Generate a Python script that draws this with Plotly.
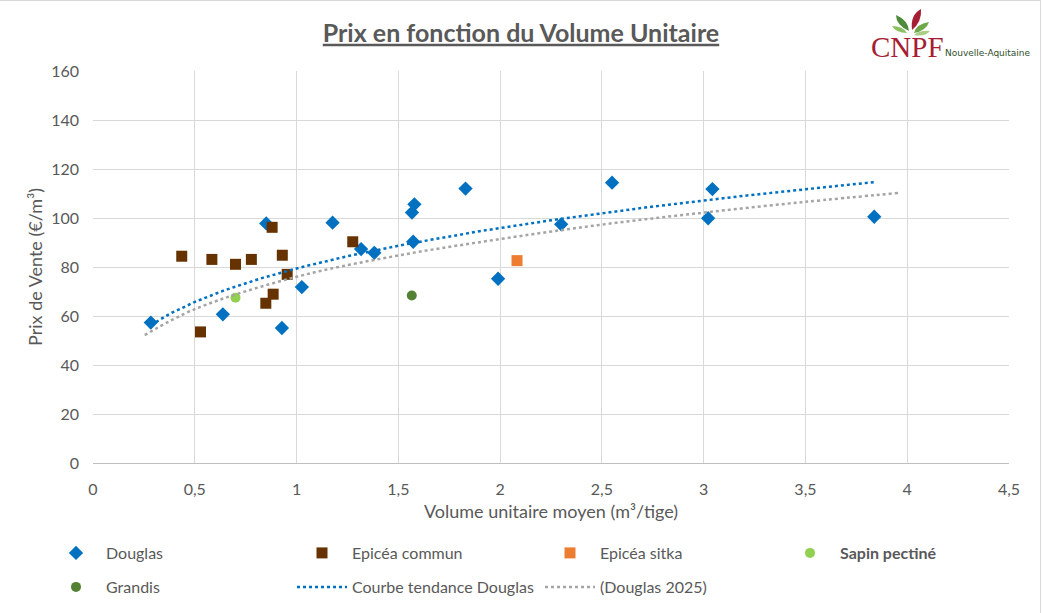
import numpy as np
import plotly.graph_objects as go

# ---------------- data ----------------
douglas_x = [0.284, 0.638, 0.851, 0.928, 1.026, 1.177, 1.317, 1.382, 1.567, 1.579, 1.573,
             1.83, 1.99, 2.30, 2.55, 3.022, 3.043, 3.838]
douglas_y = [57.3, 60.7, 97.8, 55.1, 71.8, 98.1, 87.3, 85.8, 102.2, 105.6, 90.3,
             112.0, 75.2, 97.4, 114.4, 99.9, 111.8, 100.5]

epicea_commun_x = [0.436, 0.584, 0.528, 0.700, 0.778, 0.880, 0.930, 0.954, 0.885, 0.849, 1.276]
epicea_commun_y = [84.4, 83.1, 53.5, 81.1, 83.1, 96.2, 84.8, 77.0, 68.9, 65.2, 90.3]

epicea_sitka_x = [2.083]
epicea_sitka_y = [82.6]

sapin_x = [0.700]
sapin_y = [67.5]

grandis_x = [1.566]
grandis_y = [68.4]

# "(Douglas 2025)" trend curve
douglas2025_x = [0.254, 0.5, 1.0, 1.5, 2.0, 2.5, 3.0, 3.5, 3.956]
douglas2025_y = [52.2, 62.8, 76.0, 84.7, 91.4, 97.3, 102.2, 106.6, 110.2]

x_ticks = [0, 0.5, 1, 1.5, 2, 2.5, 3, 3.5, 4, 4.5]
y_ticks = [0, 20, 40, 60, 80, 100, 120, 140, 160]

# ---------------- Douglas power trend (fitted like Excel's power trendline) ----------------
lx = np.log(np.array(douglas_x))
ly = np.log(np.array(douglas_y))
b_coef, ln_a = np.polyfit(lx, ly, 1)
trend_x = np.linspace(min(douglas_x), max(douglas_x), 200)
trend_y = np.exp(ln_a) * trend_x ** b_coef

FONT = "Lato"
GREY_TXT = "#595959"
W, H = 1042, 613
L, R, T, B = 93, 33, 71, 150
PW, PH = W - L - R, H - T - B


def px_to_paper(px, py):
    return (px - L) / PW, (H - B - py) / PH


fig = go.Figure()

fig.add_trace(go.Scatter(x=douglas_x, y=douglas_y, mode="markers", name="Douglas",
                         marker=dict(symbol="diamond", size=11, color="#0070C0"),
                         legend="legend", legendwidth=181))
fig.add_trace(go.Scatter(x=epicea_commun_x, y=epicea_commun_y, mode="markers", name="Epicéa commun",
                         marker=dict(symbol="square", size=11, color="#663300"),
                         legend="legend", legendwidth=183))
fig.add_trace(go.Scatter(x=epicea_sitka_x, y=epicea_sitka_y, mode="markers", name="Epicéa sitka",
                         marker=dict(symbol="square", size=11, color="#ED7D31"),
                         legend="legend", legendwidth=175))
fig.add_trace(go.Scatter(x=sapin_x, y=sapin_y, mode="markers", name="<b>Sapin pectiné</b>",
                         marker=dict(symbol="circle", size=10, color="#92D050"),
                         legend="legend", legendwidth=150))
fig.add_trace(go.Scatter(x=grandis_x, y=grandis_y, mode="markers", name="Grandis",
                         marker=dict(symbol="circle", size=10, color="#548235"),
                         legend="legend2", legendwidth=181))
fig.add_trace(go.Scatter(x=trend_x, y=trend_y, mode="lines", name="Courbe tendance Douglas",
                         line=dict(color="#0070C0", width=2.5, dash="dot"),
                         legend="legend2", legendwidth=183))
fig.add_trace(go.Scatter(x=douglas2025_x, y=douglas2025_y, mode="lines", name="(Douglas 2025)",
                         line=dict(color="#A5A5A5", width=2.5, dash="dot", shape="spline"),
                         legend="legend2", legendwidth=150))

# ---------------- logo (CNPF Nouvelle-Aquitaine) ----------------
shapes = []


def leaf(p0, p1, c1, c2, color):
    x0, y0 = px_to_paper(*p0)
    x1, y1 = px_to_paper(*p1)
    a1, b1 = px_to_paper(*c1)
    a2, b2 = px_to_paper(*c2)
    return dict(type="path", xref="paper", yref="paper",
                path=f"M{x0},{y0} Q{a1},{b1} {x1},{y1} Q{a2},{b2} {x0},{y0} Z",
                fillcolor=color, line=dict(width=0), layer="above")


shapes += [
    leaf((912, 30), (921, 9), (910, 15), (922, 22), "#A41E34"),
    leaf((909, 31), (896, 15), (896, 25), (908, 20), "#4E8B3A"),
    leaf((907, 33), (892, 26), (896, 33), (903, 26), "#8DC063"),
    leaf((914, 33), (929, 22), (916, 24), (926, 31), "#6FA84B"),
    leaf((914, 35), (930, 31), (920, 30), (925, 37), "#A9CF84"),
]

# chart-area border (top and right visible)
x0p, y0p = px_to_paper(0, 0.5)
x1p, _ = px_to_paper(1040.5, 0)
_, ybp = px_to_paper(0, 613)
shapes.append(dict(type="line", xref="paper", yref="paper", x0=x0p, x1=x1p, y0=y0p, y1=y0p,
                   line=dict(color="#D9D9D9", width=1)))
shapes.append(dict(type="line", xref="paper", yref="paper", x0=x1p, x1=x1p, y0=y0p, y1=ybp,
                   line=dict(color="#D9D9D9", width=1)))

annotations = []
cx, cy = px_to_paper(907, 47)
annotations.append(dict(text="CNPF", xref="paper", yref="paper", x=cx, y=cy, showarrow=False,
                        xanchor="center", yanchor="middle",
                        font=dict(family="Liberation Serif", size=29, color="#A41E34")))
nx, ny = px_to_paper(943, 53)
annotations.append(dict(text="Nouvelle-Aquitaine", xref="paper", yref="paper", x=nx, y=ny,
                        showarrow=False, xanchor="left", yanchor="middle",
                        font=dict(family="DejaVu Sans", size=9, color="#2F4F2A")))

fig.update_layout(
    width=W, height=H,
    margin=dict(l=L, r=R, t=T, b=B, autoexpand=False),
    paper_bgcolor="white", plot_bgcolor="white",
    separators=", ",
    font=dict(family=FONT, color=GREY_TXT),
    title=dict(text="<u><b>Prix en fonction du Volume Unitaire</b></u>",
               x=0.5, xref="container", xanchor="center",
               y=1 - 33 / H, yref="container", yanchor="middle",
               font=dict(family=FONT, size=25, color=GREY_TXT)),
    xaxis=dict(range=[0, 4.5], tickvals=x_ticks, showgrid=True, gridcolor="#D9D9D9", gridwidth=1,
               zeroline=False, showline=True, linecolor="#BFBFBF", linewidth=1,
               ticks="", ticklabelstandoff=12,
               tickfont=dict(family=FONT, size=16, color=GREY_TXT),
               title=dict(text="Volume unitaire moyen (m³/tige)",
                          font=dict(family=FONT, size=18, color=GREY_TXT), standoff=8),
               fixedrange=True),
    yaxis=dict(range=[0, 160], tickvals=y_ticks, showgrid=True, gridcolor="#D9D9D9", gridwidth=1,
               zeroline=False, showline=False,
               ticks="", ticklabelstandoff=13,
               tickfont=dict(family=FONT, size=16, color=GREY_TXT),
               title=dict(text="Prix de Vente (€/m³)",
                          font=dict(family=FONT, size=18, color=GREY_TXT), standoff=3),
               fixedrange=True),
    legend=dict(orientation="h", x=(46 - L) / PW, xanchor="left", y=(H - B - 553) / PH,
                yanchor="middle", itemwidth=50, bgcolor="rgba(0,0,0,0)",
                font=dict(family=FONT, size=16, color=GREY_TXT), traceorder="normal"),
    legend2=dict(orientation="h", x=(46 - L) / PW, xanchor="left", y=(H - B - 587) / PH,
                 yanchor="middle", itemwidth=50, bgcolor="rgba(0,0,0,0)",
                 font=dict(family=FONT, size=16, color=GREY_TXT), traceorder="normal"),
    shapes=shapes,
    annotations=annotations,
    showlegend=True,
)

fig.write_html("out.html")
